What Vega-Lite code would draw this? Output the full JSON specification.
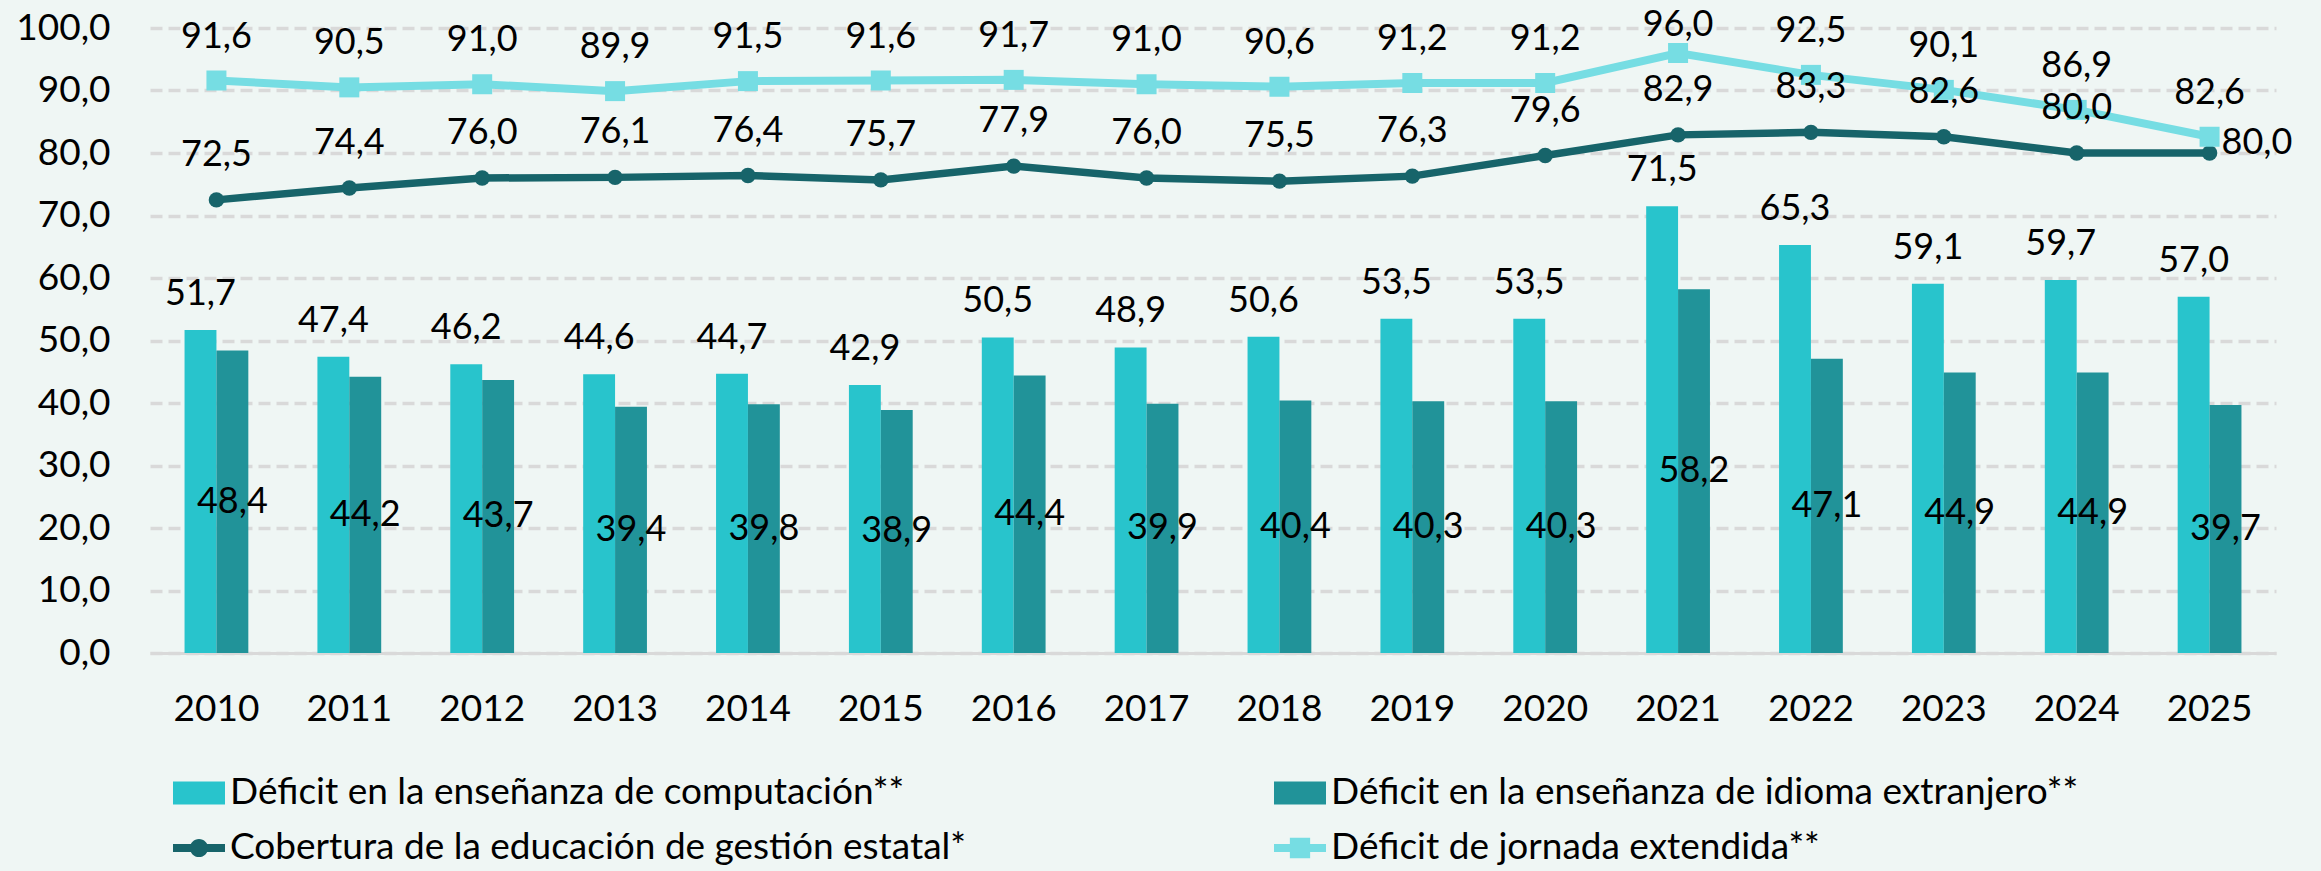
{
  "$schema": "https://vega.github.io/schema/vega-lite/v6.json",
  "width": 2126,
  "height": 625,
  "autosize": {"type": "none"},
  "padding": {"left": 150, "top": 28, "right": 45, "bottom": 218},
  "background": "#eff6f4",
  "config": {
    "locale": {"number": {"decimal": ",", "thousands": ".", "grouping": [3], "currency": ["", " €"]}},
    "view": {"stroke": null},
    "font": "Lato",
    "text": {"font": "Lato", "fontSize": 36, "color": "#000000"},
    "legend": {
      "title": null,
      "orient": "none",
      "legendX": 23,
      "legendY": 739,
      "columns": 2,
      "symbolSize": 2704,
      "symbolStrokeWidth": 0,
      "symbolOpacity": 1,
      "labelFont": "Lato",
      "labelFontSize": 37,
      "labelColor": "#000000",
      "labelLimit": 3000,
      "labelOffset": 5,
      "columnPadding": 307,
      "rowPadding": 11,
      "padding": 0
    }
  },
  "data": {
    "values": [
      {"year": 2010, "serie": "Déficit en la enseñanza de computación**", "value": 51.7},
      {"year": 2011, "serie": "Déficit en la enseñanza de computación**", "value": 47.4},
      {"year": 2012, "serie": "Déficit en la enseñanza de computación**", "value": 46.2},
      {"year": 2013, "serie": "Déficit en la enseñanza de computación**", "value": 44.6},
      {"year": 2014, "serie": "Déficit en la enseñanza de computación**", "value": 44.7},
      {"year": 2015, "serie": "Déficit en la enseñanza de computación**", "value": 42.9},
      {"year": 2016, "serie": "Déficit en la enseñanza de computación**", "value": 50.5},
      {"year": 2017, "serie": "Déficit en la enseñanza de computación**", "value": 48.9},
      {"year": 2018, "serie": "Déficit en la enseñanza de computación**", "value": 50.6},
      {"year": 2019, "serie": "Déficit en la enseñanza de computación**", "value": 53.5},
      {"year": 2020, "serie": "Déficit en la enseñanza de computación**", "value": 53.5},
      {"year": 2021, "serie": "Déficit en la enseñanza de computación**", "value": 71.5},
      {"year": 2022, "serie": "Déficit en la enseñanza de computación**", "value": 65.3},
      {"year": 2023, "serie": "Déficit en la enseñanza de computación**", "value": 59.1},
      {"year": 2024, "serie": "Déficit en la enseñanza de computación**", "value": 59.7},
      {"year": 2025, "serie": "Déficit en la enseñanza de computación**", "value": 57.0},
      {"year": 2010, "serie": "Déficit en la enseñanza de idioma extranjero**", "value": 48.4},
      {"year": 2011, "serie": "Déficit en la enseñanza de idioma extranjero**", "value": 44.2},
      {"year": 2012, "serie": "Déficit en la enseñanza de idioma extranjero**", "value": 43.7},
      {"year": 2013, "serie": "Déficit en la enseñanza de idioma extranjero**", "value": 39.4},
      {"year": 2014, "serie": "Déficit en la enseñanza de idioma extranjero**", "value": 39.8},
      {"year": 2015, "serie": "Déficit en la enseñanza de idioma extranjero**", "value": 38.9},
      {"year": 2016, "serie": "Déficit en la enseñanza de idioma extranjero**", "value": 44.4},
      {"year": 2017, "serie": "Déficit en la enseñanza de idioma extranjero**", "value": 39.9},
      {"year": 2018, "serie": "Déficit en la enseñanza de idioma extranjero**", "value": 40.4},
      {"year": 2019, "serie": "Déficit en la enseñanza de idioma extranjero**", "value": 40.3},
      {"year": 2020, "serie": "Déficit en la enseñanza de idioma extranjero**", "value": 40.3},
      {"year": 2021, "serie": "Déficit en la enseñanza de idioma extranjero**", "value": 58.2},
      {"year": 2022, "serie": "Déficit en la enseñanza de idioma extranjero**", "value": 47.1},
      {"year": 2023, "serie": "Déficit en la enseñanza de idioma extranjero**", "value": 44.9},
      {"year": 2024, "serie": "Déficit en la enseñanza de idioma extranjero**", "value": 44.9},
      {"year": 2025, "serie": "Déficit en la enseñanza de idioma extranjero**", "value": 39.7},
      {"year": 2010, "serie": "Cobertura de la educación de gestión estatal*", "value": 72.5},
      {"year": 2011, "serie": "Cobertura de la educación de gestión estatal*", "value": 74.4},
      {"year": 2012, "serie": "Cobertura de la educación de gestión estatal*", "value": 76.0},
      {"year": 2013, "serie": "Cobertura de la educación de gestión estatal*", "value": 76.1},
      {"year": 2014, "serie": "Cobertura de la educación de gestión estatal*", "value": 76.4},
      {"year": 2015, "serie": "Cobertura de la educación de gestión estatal*", "value": 75.7},
      {"year": 2016, "serie": "Cobertura de la educación de gestión estatal*", "value": 77.9},
      {"year": 2017, "serie": "Cobertura de la educación de gestión estatal*", "value": 76.0},
      {"year": 2018, "serie": "Cobertura de la educación de gestión estatal*", "value": 75.5},
      {"year": 2019, "serie": "Cobertura de la educación de gestión estatal*", "value": 76.3},
      {"year": 2020, "serie": "Cobertura de la educación de gestión estatal*", "value": 79.6},
      {"year": 2021, "serie": "Cobertura de la educación de gestión estatal*", "value": 82.9},
      {"year": 2022, "serie": "Cobertura de la educación de gestión estatal*", "value": 83.3},
      {"year": 2023, "serie": "Cobertura de la educación de gestión estatal*", "value": 82.6},
      {"year": 2024, "serie": "Cobertura de la educación de gestión estatal*", "value": 80.0},
      {"year": 2025, "serie": "Cobertura de la educación de gestión estatal*", "value": 80.0},
      {"year": 2010, "serie": "Déficit de jornada extendida**", "value": 91.6},
      {"year": 2011, "serie": "Déficit de jornada extendida**", "value": 90.5},
      {"year": 2012, "serie": "Déficit de jornada extendida**", "value": 91.0},
      {"year": 2013, "serie": "Déficit de jornada extendida**", "value": 89.9},
      {"year": 2014, "serie": "Déficit de jornada extendida**", "value": 91.5},
      {"year": 2015, "serie": "Déficit de jornada extendida**", "value": 91.6},
      {"year": 2016, "serie": "Déficit de jornada extendida**", "value": 91.7},
      {"year": 2017, "serie": "Déficit de jornada extendida**", "value": 91.0},
      {"year": 2018, "serie": "Déficit de jornada extendida**", "value": 90.6},
      {"year": 2019, "serie": "Déficit de jornada extendida**", "value": 91.2},
      {"year": 2020, "serie": "Déficit de jornada extendida**", "value": 91.2},
      {"year": 2021, "serie": "Déficit de jornada extendida**", "value": 96.0},
      {"year": 2022, "serie": "Déficit de jornada extendida**", "value": 92.5},
      {"year": 2023, "serie": "Déficit de jornada extendida**", "value": 90.1},
      {"year": 2024, "serie": "Déficit de jornada extendida**", "value": 86.9},
      {"year": 2025, "serie": "Déficit de jornada extendida**", "value": 82.6}
    ]
  },
  "encoding": {
    "x": {
      "field": "year",
      "type": "ordinal",
      "scale": {"paddingInner": 0.52, "paddingOuter": 0.26},
      "axis": {
        "title": null,
        "labelAngle": 0,
        "labelFont": "Lato",
        "labelFontSize": 37,
        "labelColor": "#000000",
        "labelPadding": 38,
        "ticks": false,
        "grid": false,
        "domainColor": "#d9d9d9",
        "domainWidth": 3
      }
    }
  },
  "layer": [
    {
      "encoding": {
        "y": {
          "field": "value",
          "type": "quantitative",
          "scale": {"domain": [0, 100], "nice": false},
          "axis": {
            "title": null,
            "values": [0, 10, 20, 30, 40, 50, 60, 70, 80, 90, 100],
            "format": ".1f",
            "labelFont": "Lato",
            "labelFontSize": 37,
            "labelColor": "#000000",
            "labelPadding": 40,
            "ticks": false,
            "domain": false,
            "grid": true,
            "gridColor": "#d9d9d9",
            "gridWidth": 3.5,
            "gridDash": [12, 6]
          }
        }
      },
      "layer": [
        {
          "transform": [{"filter": "datum.serie === 'Déficit en la enseñanza de computación**' || datum.serie === 'Déficit en la enseñanza de idioma extranjero**'"}],
          "mark": {"type": "bar"},
          "encoding": {
            "xOffset": {"field": "serie", "type": "nominal", "scale": {"domain": ["Déficit en la enseñanza de computación**", "Déficit en la enseñanza de idioma extranjero**"]}},
            "color": {
              "field": "serie",
              "type": "nominal",
              "scale": {
                "domain": ["Déficit en la enseñanza de computación**", "Cobertura de la educación de gestión estatal*", "Déficit en la enseñanza de idioma extranjero**", "Déficit de jornada extendida**"],
                "range": ["#28c4cc", "#17646a", "#219399", "#76dde3"]
              }
            }
          }
        },
        {
          "transform": [{"filter": "datum.serie === 'Déficit en la enseñanza de computación**'"}],
          "mark": {"type": "text", "baseline": "middle", "dy": -36, "fontSize": 36},
          "encoding": {
            "xOffset": {"field": "serie", "type": "nominal"},
            "text": {"field": "value", "type": "quantitative", "format": ".1f"}
          }
        },
        {
          "transform": [{"filter": "datum.serie === 'Cobertura de la educación de gestión estatal*'"}],
          "mark": {"type": "line", "color": "#17646a", "strokeWidth": 7.5}
        },
        {
          "transform": [{"filter": "datum.serie === 'Déficit de jornada extendida**'"}],
          "mark": {"type": "line", "color": "#76dde3", "strokeWidth": 8}
        },
        {
          "transform": [{"filter": "datum.serie === 'Cobertura de la educación de gestión estatal*'"}],
          "mark": {"type": "point", "shape": "circle", "filled": true, "opacity": 1, "size": 240, "color": "#17646a"}
        },
        {
          "transform": [{"filter": "datum.serie === 'Déficit de jornada extendida**'"}],
          "mark": {"type": "point", "shape": "square", "filled": true, "opacity": 1, "size": 400, "color": "#76dde3"}
        },
        {
          "transform": [{"filter": "datum.serie === 'Cobertura de la educación de gestión estatal*' && datum.year !== 2025"}],
          "mark": {"type": "text", "baseline": "middle", "dy": -45, "fontSize": 36},
          "encoding": {"text": {"field": "value", "type": "quantitative", "format": ".1f"}}
        },
        {
          "transform": [{"filter": "datum.serie === 'Cobertura de la educación de gestión estatal*' && datum.year === 2025"}],
          "mark": {"type": "text", "baseline": "middle", "align": "left", "dx": 12, "dy": -10, "fontSize": 36},
          "encoding": {"text": {"field": "value", "type": "quantitative", "format": ".1f"}}
        },
        {
          "transform": [{"filter": "datum.serie === 'Déficit de jornada extendida**' && datum.year !== 2021"}],
          "mark": {"type": "text", "baseline": "middle", "dy": -44, "fontSize": 36},
          "encoding": {"text": {"field": "value", "type": "quantitative", "format": ".1f"}}
        },
        {
          "transform": [{"filter": "datum.serie === 'Déficit de jornada extendida**' && datum.year === 2021"}],
          "mark": {"type": "text", "baseline": "middle", "dy": -28, "fontSize": 36},
          "encoding": {"text": {"field": "value", "type": "quantitative", "format": ".1f"}}
        },
        {
          "transform": [{"filter": "datum.value < 0"}],
          "mark": {"type": "point", "filled": true, "opacity": 1, "size": 2704},
          "encoding": {
            "color": {
              "field": "serie",
              "type": "nominal",
              "scale": {
                "domain": ["Déficit en la enseñanza de computación**", "Cobertura de la educación de gestión estatal*", "Déficit en la enseñanza de idioma extranjero**", "Déficit de jornada extendida**"],
                "range": ["#28c4cc", "#17646a", "#219399", "#76dde3"]
              }
            },
            "shape": {
              "field": "serie",
              "type": "nominal",
              "scale": {
                "domain": ["Déficit en la enseñanza de computación**", "Cobertura de la educación de gestión estatal*", "Déficit en la enseñanza de idioma extranjero**", "Déficit de jornada extendida**"],
                "range": [
                  "M-1,-0.44H1V0.44H-1Z",
                  "M-1,-0.15H1V0.15H-1Z M0,-0.35A0.35,0.35 0 1,1 0,0.35A0.35,0.35 0 1,1 0,-0.35Z",
                  "M-1,-0.44H1V0.44H-1Z",
                  "M-1,-0.15H1V0.15H-1Z M-0.39,-0.39H0.39V0.39H-0.39Z"
                ]
              }
            }
          }
        }
      ]
    },
    {
      "transform": [{"filter": "datum.serie === 'Déficit en la enseñanza de idioma extranjero**'"}],
      "mark": {"type": "text", "baseline": "middle", "fontSize": 36},
      "encoding": {
        "xOffset": {"field": "serie", "type": "nominal", "scale": {"domain": ["Déficit en la enseñanza de computación**", "Déficit en la enseñanza de idioma extranjero**"]}},
        "y": {"field": "value", "type": "quantitative", "scale": {"domain": [0, 200], "nice": false}, "axis": null},
        "text": {"field": "value", "type": "quantitative", "format": ".1f"}
      }
    }
  ],
  "resolve": {"scale": {"y": "independent"}}
}
